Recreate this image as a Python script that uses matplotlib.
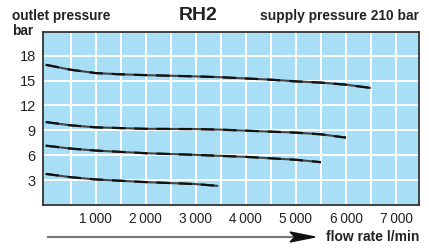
import matplotlib
matplotlib.use("Agg")
import matplotlib.pyplot as plt
import numpy as np

plt.rcParams['font.family'] = ['Liberation Sans', 'DejaVu Sans']

flow1 = [0, 500, 1000, 1500, 2000, 3000, 3500, 4000, 4500, 5000, 5500, 6000, 6500]
p1 = [16.9, 16.3, 15.9, 15.75, 15.65, 15.5, 15.4, 15.25, 15.1, 14.9, 14.75, 14.5, 14.1]
flow2 = [0, 500, 1000, 2000, 3000, 3500, 4000, 5000, 5500, 6000]
p2 = [10.0, 9.6, 9.36, 9.18, 9.15, 9.08, 8.96, 8.72, 8.52, 8.12]
flow3 = [0, 500, 1000, 2000, 3000, 3500, 4000, 5000, 5500]
p3 = [7.15, 6.8, 6.56, 6.24, 6.04, 5.92, 5.8, 5.45, 5.16]
flow4 = [0, 500, 1000, 2000, 3000, 3450]
p4 = [3.75, 3.35, 3.08, 2.76, 2.52, 2.3]

xticks = [1000, 2000, 3000, 4000, 5000, 6000, 7000]
xticklabels = ["1\u2009000", "2\u2009000", "3\u2009000", "4\u2009000", "5\u2009000", "6\u2009000", "7\u2009000"]
yticks = [3, 6, 9, 12, 15, 18]

W, H = 429, 248
fig = plt.figure(figsize=(W/100, H/100), dpi=100)
left, right, top, bottom = 42.7, 419, 32, 205
ax = fig.add_axes([left/W, 1-bottom/H, (right-left)/W, (bottom-top)/H])
ax.set_facecolor('#A9DFF6')
ax.set_xlim(-60, 7460)
ax.set_ylim(0, 20.85)

for v in np.arange(500, 7500, 500):
    ax.axvline(v, color='white', lw=1.4, zorder=1)
for v in np.arange(3, 21, 3):
    ax.axhline(v, color='white', lw=1.4, zorder=1)

for fx, py in [(flow1, p1), (flow2, p2), (flow3, p3), (flow4, p4)]:
    ax.plot(fx, py, color='#444444', lw=1.5, zorder=3, solid_capstyle='butt')
    ax.plot(fx, py, color='#111111', lw=1.6, zorder=4, dashes=(6, 4))

ax.set_xticks(xticks)
ax.set_xticklabels(xticklabels, fontsize=9.8, color='#222222')
ax.set_yticks(yticks)
ax.set_yticklabels([str(v) for v in yticks], fontsize=10.5, color='#222222')
ax.tick_params(axis='y', length=0, pad=5)
ax.tick_params(axis='x', length=0, pad=5)
for s in ax.spines.values():
    s.set_color('#333333')
    s.set_linewidth(1.3)

fig.text(12/W, 1-16/H, "outlet pressure", fontsize=9.8, fontweight='bold', va='center', ha='left', color='#222222')
fig.text(12/W, 1-31/H, "bar", fontsize=9.8, fontweight='bold', va='center', ha='left', color='#222222')
fig.text(198/W, 1-16/H, "RH2", fontsize=14, fontweight='bold', va='center', ha='center', color='#222222')
fig.text(419/W, 1-16/H, "supply pressure 210 bar", fontsize=9.9, fontweight='bold', va='center', ha='right', color='#222222')
fig.text(419/W, 1-237/H, "flow rate l/min", fontsize=10, fontweight='bold', va='center', ha='right', color='#222222')

fig.add_artist(matplotlib.patches.FancyArrowPatch((45/W, 1-237/H), (300/W, 1-237/H),
    transform=fig.transFigure, arrowstyle='-', color='#777777', lw=1.6))
fig.add_artist(matplotlib.patches.Polygon([(290/W, 1-232/H), (315/W, 1-237/H), (290/W, 1-242/H), (295/W, 1-237/H)],
    closed=True, transform=fig.transFigure, color='#111111'))

fig.savefig("out.png", dpi=100)
